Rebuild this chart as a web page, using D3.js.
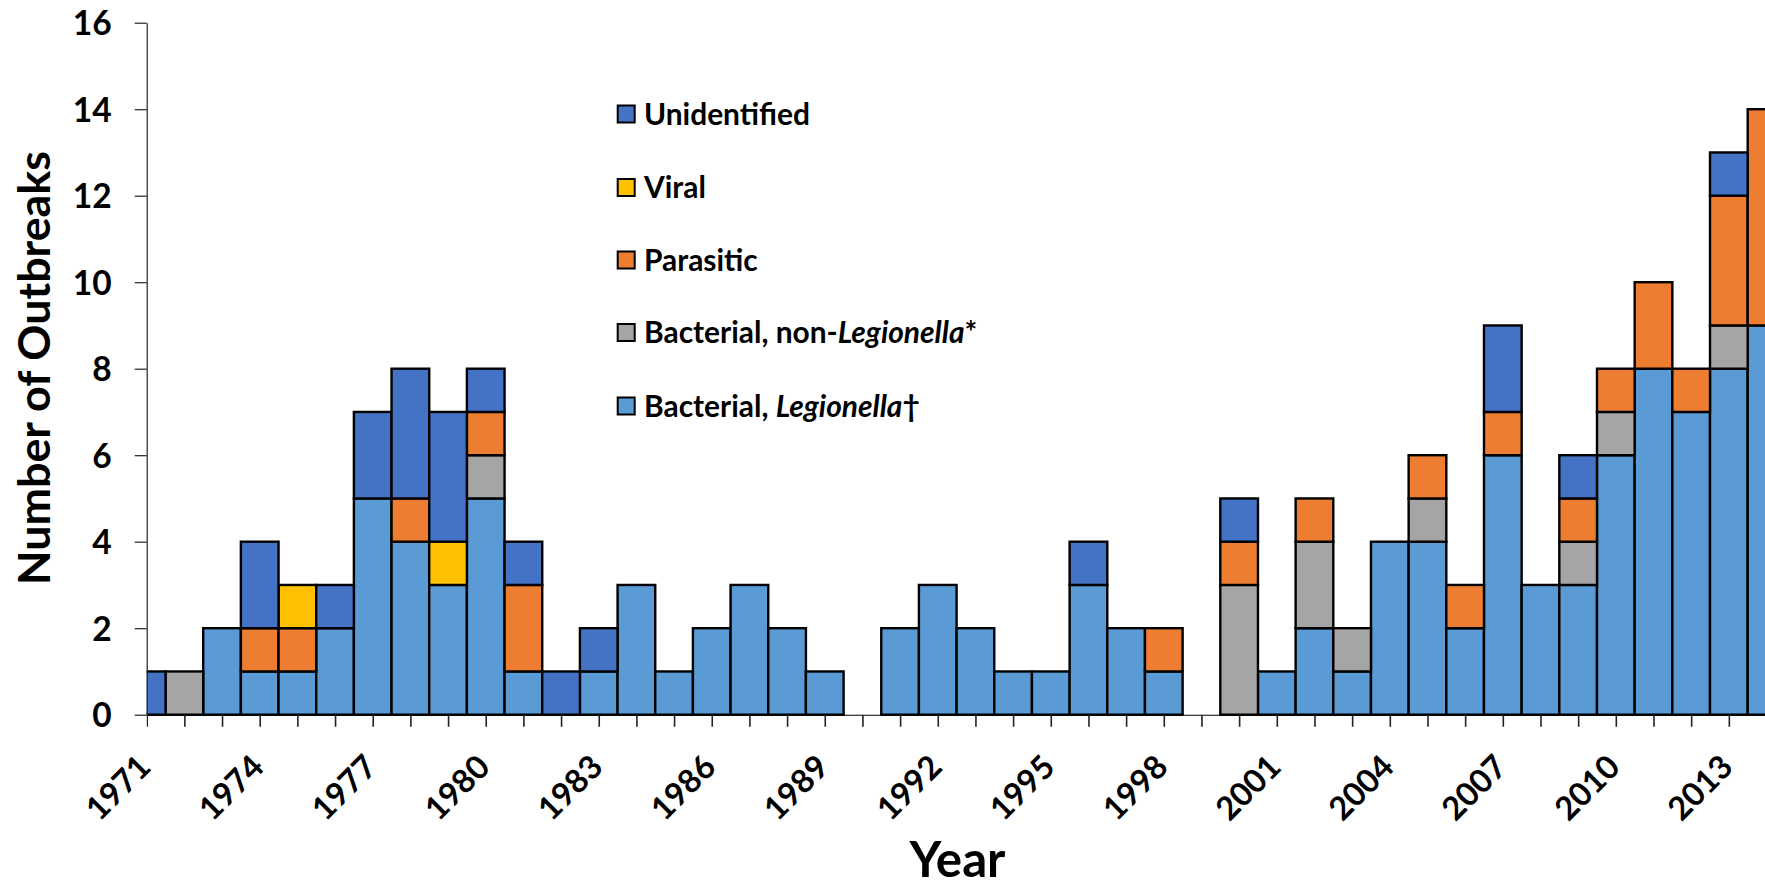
<!DOCTYPE html>
<html>
<head>
<meta charset="utf-8">
<script src="https://cdn.jsdelivr.net/npm/d3@7"></script>
<style>
  html, body { margin: 0; padding: 0; background: #ffffff; }
  svg text { font-family: Lato, "Open Sans", "Noto Sans", sans-serif; font-weight: bold; fill: #000; }
</style>
</head>
<body>
<svg id="chart" width="1765" height="886"></svg>
<script>
// ---------------- data ----------------
const years = [1971,1972,1973,1974,1975,1976,1977,1978,1979,1980,
               1981,1982,1983,1984,1985,1986,1987,1988,1989,1990,
               1991,1992,1993,1994,1995,1996,1997,1998,1999,2000,
               2001,2002,2003,2004,2005,2006,2007,2008,2009,2010,
               2011,2012,2013,2014];
const legionella    = [0,0,2,1,1,2,5,4,3,5, 1,0,1,3,1,2,3,2,1,0, 2,3,2,1,1,3,2,1,0,0, 1,2,1,4,4,2,6,3,3,6, 8,7,8,9];
const nonLegionella = [0,1,0,0,0,0,0,0,0,1, 0,0,0,0,0,0,0,0,0,0, 0,0,0,0,0,0,0,0,0,3, 0,2,1,0,1,0,0,0,1,1, 0,0,1,0];
const parasitic     = [0,0,0,1,1,0,0,1,0,1, 2,0,0,0,0,0,0,0,0,0, 0,0,0,0,0,0,0,1,0,1, 0,1,0,0,1,1,1,0,1,1, 2,1,3,5];
const viral         = [0,0,0,0,1,0,0,0,1,0, 0,0,0,0,0,0,0,0,0,0, 0,0,0,0,0,0,0,0,0,0, 0,0,0,0,0,0,0,0,0,0, 0,0,0,0];
const unidentified  = [1,0,0,2,0,1,2,3,3,1, 1,1,1,0,0,0,0,0,0,0, 0,0,0,0,0,1,0,0,0,1, 0,0,0,0,0,0,2,0,1,0, 0,0,1,0];
const seriesKeys  = ["legionella","nonLegionella","parasitic","viral","unidentified"];
const seriesColors = ["#5B9BD5","#A5A5A5","#ED7D31","#FFC000","#4472C4"];
const yTickValues = [0,2,4,6,8,10,12,14,16];
const xLabelYears = [1971,1974,1977,1980,1983,1986,1989,1992,1995,1998,2001,2004,2007,2010,2013];
const legendItems = [
  {key:"unidentified",  parts:[{t:"Unidentified"}]},
  {key:"viral",         parts:[{t:"Viral"}]},
  {key:"parasitic",     parts:[{t:"Parasitic"}]},
  {key:"nonLegionella", parts:[{t:"Bacterial, non-"},{t:"Legionella",i:true},{t:"*"}]},
  {key:"legionella",    parts:[{t:"Bacterial, "},{t:"Legionella",i:true},{t:"†"}]}
];

// ---------------- layout ----------------
const W = 1765, H = 886;
const plotLeft = 146.7, yearStep = 37.67;
const y0px = 714.7, y16px = 22.7;
const svg = d3.select("#chart");

const table = years.map((yr,i) => ({
  year: yr,
  legionella: legionella[i], nonLegionella: nonLegionella[i],
  parasitic: parasitic[i], viral: viral[i], unidentified: unidentified[i]
}));

const x = d3.scaleLinear().domain([years[0], years[years.length-1]])
  .range([plotLeft, plotLeft + yearStep*(years.length-1)]);
const y = d3.scaleLinear().domain([0,16]).range([y0px, y16px]);
const color = d3.scaleOrdinal().domain(seriesKeys).range(seriesColors);
const bw = x(years[1]) - x(years[0]);

svg.append("defs").append("clipPath").attr("id","plotclip")
  .append("rect").attr("x", plotLeft).attr("y", 0).attr("width", W - plotLeft).attr("height", H);

const stack = d3.stack().keys(seriesKeys)(table);

const bars = svg.append("g").attr("clip-path","url(#plotclip)");
stack.forEach(layer => {
  bars.append("g").attr("fill", color(layer.key))
    .selectAll("rect")
    .data(layer.filter(d => d[1] - d[0] > 0))
    .join("rect")
    .attr("x", d => x(d.data.year) - bw/2)
    .attr("width", bw)
    .attr("y", d => y(d[1]))
    .attr("height", d => y(d[0]) - y(d[1]))
    .attr("stroke", "#000")
    .attr("stroke-width", 2.4);
});

// x axis
const xAxisG = svg.append("g").attr("transform", `translate(0,${y0px})`).attr("clip-path","url(#plotclip)");
xAxisG.call(d3.axisBottom(x).tickValues(years).tickSize(12).tickFormat("").tickSizeOuter(0));
xAxisG.select(".domain").attr("stroke","#000").attr("stroke-width",2)
  .attr("d", `M${plotLeft},0H${W}`);
xAxisG.selectAll(".tick line").attr("stroke","#222").attr("stroke-width",1.6);

// x labels (rotated)
svg.append("g").selectAll("text").data(xLabelYears).join("text")
  .attr("transform", d => `translate(${x(d)+6},${769}) rotate(-45)`)
  .attr("text-anchor","end")
  .attr("font-size", 32.5)
  .text(d => d);

// y axis
const yAxisG = svg.append("g").attr("transform", `translate(${plotLeft},0)`);
yAxisG.call(d3.axisLeft(y).tickValues(yTickValues).tickSize(12).tickSizeOuter(0).tickPadding(23));
yAxisG.select(".domain").attr("stroke","#222").attr("stroke-width",1.2);
yAxisG.selectAll(".tick line").attr("stroke","#222").attr("stroke-width",1.2);
yAxisG.selectAll(".tick text")
  .attr("font-size", 33.5).attr("font-family", null).attr("font-weight", null)
  .attr("dy","0.36em").attr("fill","#000");
yAxisG.attr("font-family", null).attr("font-size", null);

function fitWidth(sel, target) {
  const w = sel.node().getComputedTextLength();
  const fs = parseFloat(sel.attr("font-size"));
  sel.attr("font-size", fs * target / w);
}

// axis titles
const yTitle = svg.append("text")
  .attr("transform", `translate(50,368) rotate(-90)`)
  .attr("text-anchor","middle").attr("font-size", 48)
  .text("Number of Outbreaks");
fitWidth(yTitle, 434);

const xTitle = svg.append("text")
  .attr("x", 957.5).attr("y", 877).attr("text-anchor","middle").attr("font-size", 48)
  .text("Year");
fitWidth(xTitle, 96);

// legend
const legRowY = [114, 187.5, 260, 332.5, 406];
const legend = svg.append("g");
let legendFont = 30;
legendItems.forEach((item, i) => {
  const g = legend.append("g").attr("transform", `translate(0,${legRowY[i]})`);
  g.append("rect").attr("x", 617.7).attr("y", -8.5).attr("width", 17).attr("height", 17)
    .attr("fill", color(item.key)).attr("stroke", "#000").attr("stroke-width", 2);
  const t = g.append("text").attr("x", 644).attr("y", 0).attr("dy","0.36em").attr("font-size", legendFont);
  item.parts.forEach(p => {
    t.append("tspan").attr("font-style", p.i ? "italic" : "normal").text(p.t);
  });
  if (i === 0) {
    fitWidth(t, 166);
    legendFont = parseFloat(t.attr("font-size"));
  }
});
</script>
</body>
</html>
